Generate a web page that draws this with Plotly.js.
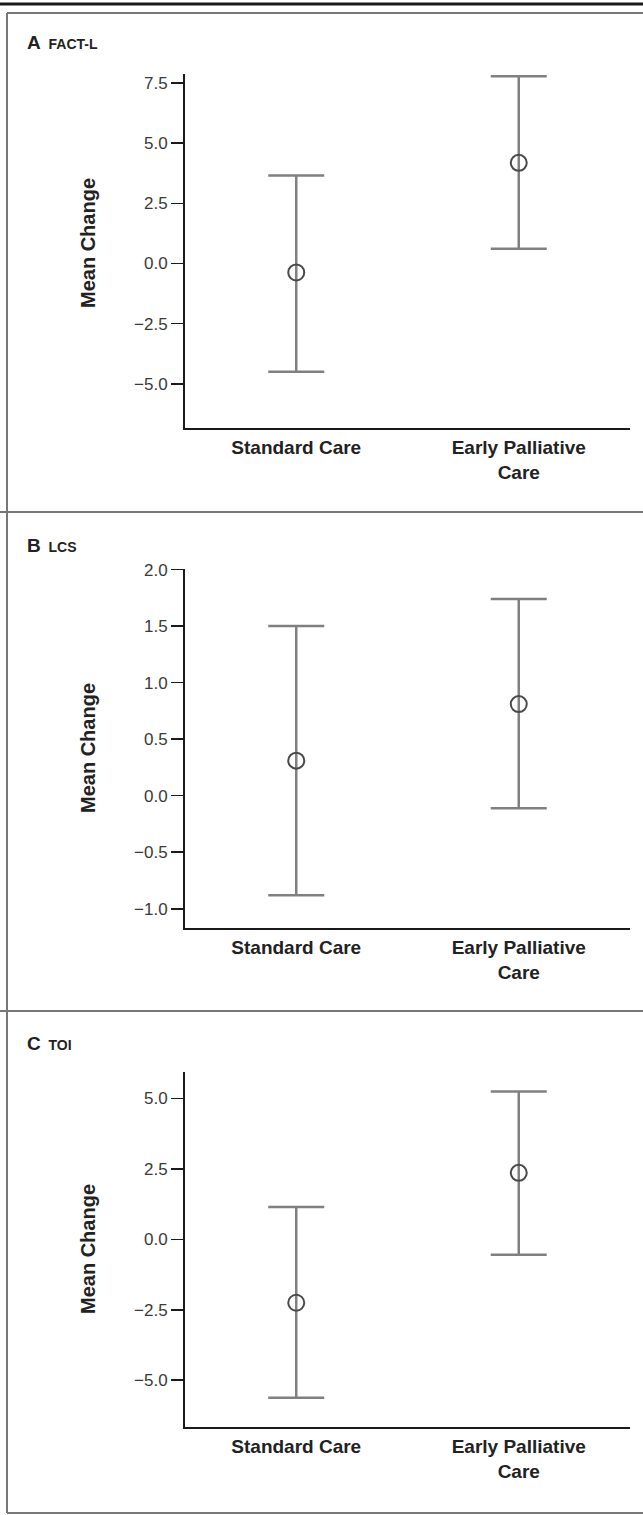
<!DOCTYPE html>
<html>
<head>
<meta charset="utf-8">
<script src="https://cdn.plot.ly/plotly-3.0.1.min.js"></script>
<style>html,body{margin:0;padding:0;background:#fff;}#chart{width:643px;height:1515px;}</style>
</head>
<body>
<div id="chart"></div>
<script>
// ---- data ----
const groups = ["Standard Care", "Early Palliative<br>Care"];
const panelLetters = ["A", "B", "C"];
const panelNames = ["FACT-L", "LCS", "TOI"];

const factMean = [-0.37, 4.18];
const factLower = [-4.49, 0.61];
const factUpper = [3.65, 7.78];

const lcsMean = [0.31, 0.81];
const lcsLower = [-0.88, -0.11];
const lcsUpper = [1.50, 1.74];

const toiMean = [-2.25, 2.36];
const toiLower = [-5.62, -0.55];
const toiUpper = [1.15, 5.25];

const factTicks = [-5, -2.5, 0, 2.5, 5, 7.5];
const lcsTicks = [-1, -0.5, 0, 0.5, 1, 1.5, 2];
const toiTicks = [-5, -2.5, 0, 2.5, 5];

// ---- layout helpers ----
const W = 643, H = 1515;
const px = v => v / W;
const py = v => 1 - v / H;

const xPos = [0, 1];
const panels = [
  {mean: factMean, lo: factLower, hi: factUpper, ticks: factTicks, range: [-6.83, 7.87], top: 74, bottom: 428, titleY: 42, yTitle: 243},
  {mean: lcsMean, lo: lcsLower, hi: lcsUpper, ticks: lcsTicks, range: [-1.17, 2.005], top: 569, bottom: 928, titleY: 545, yTitle: 748},
  {mean: toiMean, lo: toiLower, hi: toiUpper, ticks: toiTicks, range: [-6.66, 5.94], top: 1072, bottom: 1427, titleY: 1043, yTitle: 1249}
];

const FONT = "Liberation Sans, Arial, sans-serif";
const data = [];
const layout = {
  width: W, height: H,
  margin: {l: 0, r: 0, t: 0, b: 0},
  paper_bgcolor: "#fff", plot_bgcolor: "#fff",
  showlegend: false,
  font: {family: FONT, color: "#333"},
  shapes: [], annotations: []
};

panels.forEach((p, i) => {
  const n = i + 1;
  const xa = n === 1 ? "x" : "x" + n;
  const ya = n === 1 ? "y" : "y" + n;
  data.push({
    type: "scatter", mode: "markers",
    x: xPos, y: p.mean, xaxis: xa, yaxis: ya,
    marker: {symbol: "circle-open", size: 16, color: "#4a4a4a", line: {width: 2, color: "#4a4a4a"}},
    error_y: {
      type: "data", symmetric: false,
      array: p.hi.map((v, k) => v - p.mean[k]),
      arrayminus: p.mean.map((v, k) => v - p.lo[k]),
      color: "#808080", thickness: 2.5, width: 28
    },
    hoverinfo: "skip"
  });
  layout["xaxis" + (n === 1 ? "" : n)] = {
    domain: [px(185), px(630)],
    anchor: ya,
    range: [-0.5, 1.5],
    tickvals: xPos, ticktext: groups,
    ticks: "", showgrid: false, zeroline: false,
    ticklabelstandoff: 1,
    showline: true, linecolor: "#1a1a1a", linewidth: 2,
    tickfont: {family: FONT, size: 19, color: "#222", weight: "bold"},
    fixedrange: true
  };
  layout["yaxis" + (n === 1 ? "" : n)] = {
    domain: [py(p.bottom), py(p.top)],
    anchor: xa,
    range: p.range,
    tickvals: p.ticks, tickformat: ".1f",
    ticks: "outside", ticklen: 12, tickwidth: 1.5, tickcolor: "#1a1a1a",
    showgrid: false, zeroline: false,
    showline: true, linecolor: "#1a1a1a", linewidth: 2,
    tickfont: {family: FONT, size: 17, color: "#3a3a3a"},
    fixedrange: true
  };
  layout.annotations.push({
    xref: "paper", yref: "paper", x: px(25), y: py(p.titleY),
    xanchor: "left", yanchor: "middle", showarrow: false,
    text: "<b><span style='font-size:19px'>" + panelLetters[i] + "</span>&nbsp;&nbsp;<span style='font-size:14px'>" + panelNames[i] + "</span></b>",
    font: {family: FONT, color: "#222", size: 14}
  });
  layout.annotations.push({
    xref: "paper", yref: "paper", x: px(88), y: py(p.yTitle),
    xanchor: "center", yanchor: "middle", showarrow: false, textangle: -90,
    text: "<b>Mean Change</b>",
    font: {family: FONT, color: "#222", size: 20}
  });
});

// frame lines
const line = (x0, y0, x1, y1, color, width) => ({
  type: "line", xref: "paper", yref: "paper",
  x0: px(x0), y0: py(y0), x1: px(x1), y1: py(y1),
  line: {color: color, width: width}, layer: "above"
});
layout.shapes.push(line(0, 4, 643, 4, "#1a1a1a", 3));
layout.shapes.push(line(7, 13, 643, 13, "#777", 2));
layout.shapes.push(line(7, 13, 7, 1513, "#777", 2));
layout.shapes.push(line(0, 512, 643, 512, "#777", 2));
layout.shapes.push(line(0, 1011, 643, 1011, "#777", 2));
layout.shapes.push(line(7, 1513, 643, 1513, "#777", 2));

Plotly.newPlot("chart", data, layout, {displayModeBar: false, staticPlot: true});
</script>
</body>
</html>
